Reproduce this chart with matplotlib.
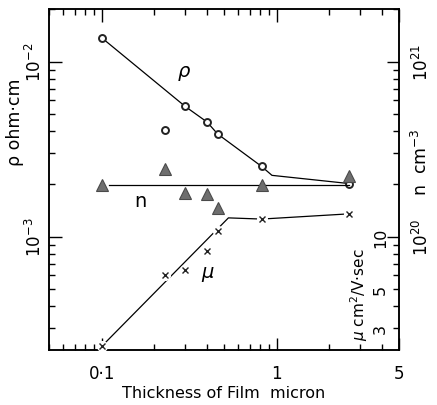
import numpy as np
import matplotlib
matplotlib.use("Agg")
import matplotlib.pyplot as plt
from matplotlib.ticker import LogLocator, NullFormatter, FixedLocator, FixedFormatter

plt.rcParams['font.family'] = ['DejaVu Sans']
plt.rcParams['mathtext.fontset'] = 'dejavusans'

# resistivity (ohm cm) vs film thickness (micron)
thick_rho = [0.1, 0.23, 0.3, 0.4, 0.46, 0.82, 2.6]
rho = [1.37e-2, 4.05e-3, 5.55e-3, 4.52e-3, 3.86e-3, 2.52e-3, 2.01e-3]
rho_line_t = [0.1, 0.3, 0.4, 0.46, 0.82, 0.94, 2.6]
rho_line = [1.37e-2, 5.55e-3, 4.52e-3, 3.86e-3, 2.52e-3, 2.24e-3, 2.01e-3]

# carrier concentration (cm^-3)
thick_n = [0.1, 0.23, 0.3, 0.4, 0.46, 0.82, 2.6]
n_conc = [1.96e20, 2.45e20, 1.78e20, 1.76e20, 1.46e20, 1.96e20, 2.23e20]
n_line_t = [0.11, 2.6]
n_line = [1.98e20, 1.98e20]

# Hall mobility (cm^2/V sec)
thick_mu = [0.1, 0.23, 0.3, 0.4, 0.46, 0.82, 2.6]
mu = [2.36, 6.01, 6.42, 8.24, 10.8, 12.6, 13.5]
mu_line_t = [0.1, 0.53, 0.82, 2.6]
mu_line = [2.36, 12.8, 12.6, 13.5]

x_ticks = [0.1, 1, 5]
x_labels = ["0\u00b71", "1", "5"]
rho_ticks = [1e-3, 1e-2]
rho_labels = ["$10^{-3}$", "$10^{-2}$"]
n_ticks = [1e20, 1e21]
n_labels = ["$10^{20}$", "$10^{21}$"]
mu_ticks = [3, 5, 10]

rho_lim = (2.25e-4, 2.0e-2)

fig = plt.figure(figsize=(4.37, 4.06), dpi=100)
ax = fig.add_axes([0.1121, 0.1355, 0.8009, 0.8399])
ax2 = ax.twinx()
ax3 = ax.twinx()
for a in (ax, ax2, ax3):
    for s in a.spines.values():
        s.set_linewidth(1.1)

ax.set_xscale('log')
ax.set_yscale('log')
ax2.set_yscale('log')
ax3.set_yscale('log')
ax.set_xlim(0.05, 5.0)
ax.set_ylim(*rho_lim)
ax2.set_ylim(rho_lim[0] * 1e23, rho_lim[1] * 1e23)
ax3.set_ylim(rho_lim[0] * 1e4, rho_lim[1] * 1e4)
ax3.axis('off')

# rho
ax.plot(rho_line_t, rho_line, color='black', lw=0.9, zorder=2)
ax.plot(thick_rho, rho, 'o', ms=5, mfc='white', mec='#222222', mew=1.4, zorder=3)

# n
ax2.plot(n_line_t, n_line, color='black', lw=0.9, zorder=2)
ax2.plot(thick_n, n_conc, '^', ms=8.5, mfc='#6e6e6e', mec='#4a4a4a', mew=0.8, zorder=3)

# mu
ax3.plot(mu_line_t, mu_line, color='black', lw=0.9, zorder=2)
ax3.plot(thick_mu, mu, 'o', ms=8, mfc='white', mec='none', zorder=3)
ax3.plot(thick_mu, mu, 'x', ms=4.5, mec='#222222', mew=1.0, zorder=4)

# ticks
ax.xaxis.set_major_locator(FixedLocator(x_ticks))
ax.xaxis.set_major_formatter(FixedFormatter(x_labels))
ax.xaxis.set_minor_locator(LogLocator(base=10, subs=np.arange(2, 10)))
ax.xaxis.set_minor_formatter(NullFormatter())
ax.yaxis.set_major_locator(FixedLocator(rho_ticks))
ax.yaxis.set_major_formatter(FixedFormatter(rho_labels))
ax.yaxis.set_minor_locator(LogLocator(base=10, subs=np.arange(2, 10)))
ax.yaxis.set_minor_formatter(NullFormatter())
ax2.yaxis.set_major_locator(FixedLocator(n_ticks))
ax2.yaxis.set_major_formatter(FixedFormatter(n_labels))
ax2.yaxis.set_minor_locator(LogLocator(base=10, subs=np.arange(2, 10)))
ax2.yaxis.set_minor_formatter(NullFormatter())

ax.tick_params(which='both', direction='in', top=True, right=False, width=1.0)
ax.tick_params(which='major', length=9)
ax.tick_params(which='minor', length=4)
ax.tick_params(axis='x', which='major', labelsize=12, pad=10)
ax.tick_params(axis='y', which='major', labelsize=12, pad=3, labelrotation=90)
ax2.tick_params(which='both', direction='in', width=1.0)
ax2.tick_params(which='major', length=9, labelsize=12, pad=9, labelrotation=90)
ax2.tick_params(which='minor', length=4)
for lab in ax.get_yticklabels():
    lab.set_va('center')
for lab in ax2.get_yticklabels():
    lab.set_va('center')

ax.set_xlabel("Thickness of Film  micron", fontsize=11.5, labelpad=2)
ax.text(-0.097, 0.672, "\u03c1 ohm\u00b7cm", transform=ax.transAxes, rotation=90,
        ha='center', va='center', fontsize=12.5)
ax.text(1.063, 0.554, "n  cm$^{-3}$", transform=ax.transAxes, rotation=90,
        ha='center', va='center', fontsize=12.5)
ax.text(0.885, 0.164, "$\\mu$ cm$^2$/V\u00b7sec", transform=ax.transAxes, rotation=90,
        ha='center', va='center', fontsize=11)
for m in mu_ticks:
    ax3.text(0.947, m, str(m), transform=ax3.get_yaxis_transform(), rotation=90,
             ha='center', va='center', fontsize=11.5)

# curve labels
ax.text(0.386, 0.815, "$\\rho$", transform=ax.transAxes, ha='center', va='center', fontsize=14)
ax.text(0.26, 0.437, "n", transform=ax.transAxes, ha='center', va='center', fontsize=14)
ax.text(0.454, 0.223, "$\\mu$", transform=ax.transAxes, ha='center', va='center', fontsize=14)

fig.savefig("out.png", dpi=100)
